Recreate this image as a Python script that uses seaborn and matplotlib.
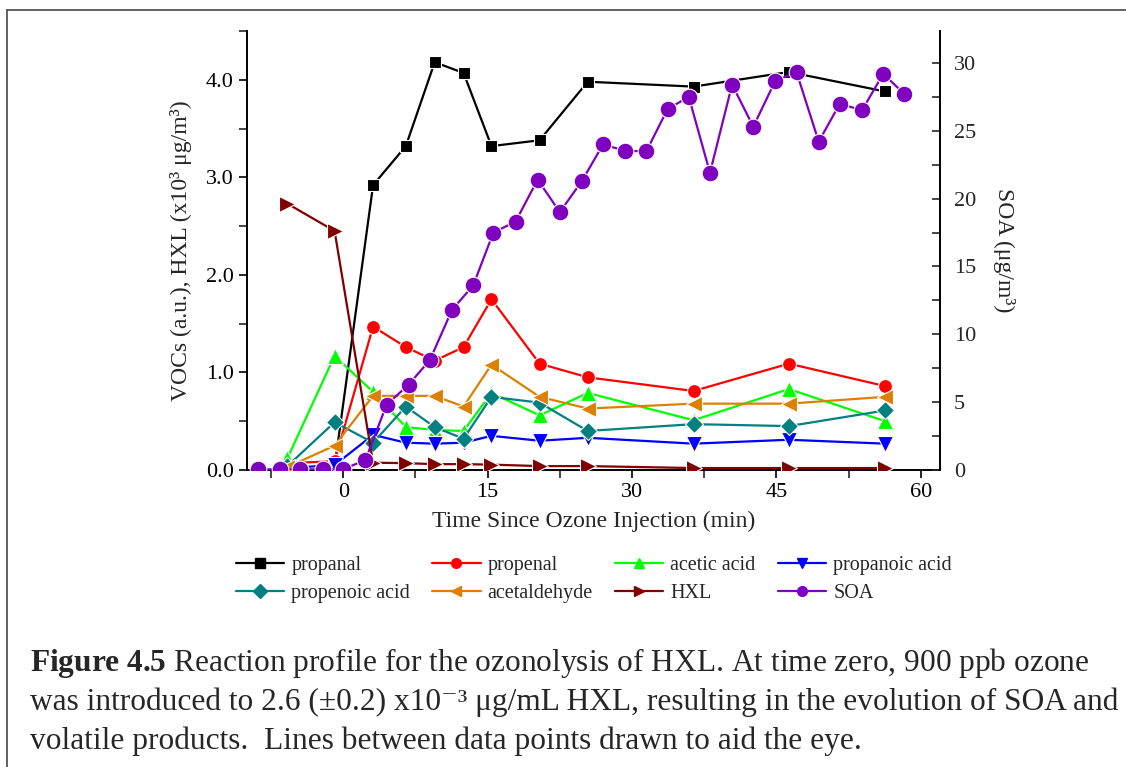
import numpy as np
import pandas as pd
import matplotlib
matplotlib.use("Agg")
import matplotlib.pyplot as plt
from matplotlib.lines import Line2D
from matplotlib.ticker import MultipleLocator, FormatStrFormatter
import seaborn as sns

# ---------------- data ----------------
voc_time = [-5.8, -0.9, 3.1, 6.5, 9.5, 12.5, 15.4, 20.4, 25.4, 36.4, 46.3, 56.3]
propanal_time = [-0.9, 3.1, 6.5, 9.5, 12.5, 15.4, 20.4, 25.4, 36.4, 46.3, 56.3]
propanal = [0.03, 2.92, 3.32, 4.18, 4.07, 3.32, 3.38, 3.98, 3.93, 4.08, 3.88]
propenal = [0.07, 0.09, 1.47, 1.26, 1.12, 1.26, 1.75, 1.09, 0.95, 0.81, 1.09, 0.86]
acetic_acid = [0.12, 1.17, 0.80, 0.44, 0.41, 0.40, 0.79, 0.56, 0.79, 0.51, 0.83, 0.50]
propanoic_acid = [0.02, 0.05, 0.36, 0.28, 0.27, 0.28, 0.35, 0.30, 0.33, 0.27, 0.31, 0.27]
propenoic_acid = [0.04, 0.49, 0.28, 0.65, 0.44, 0.32, 0.75, 0.69, 0.40, 0.47, 0.45, 0.61]
acetaldehyde = [0.03, 0.25, 0.76, 0.76, 0.76, 0.65, 1.08, 0.75, 0.63, 0.68, 0.68, 0.75]
hxl = [2.73, 2.45, 0.075, 0.07, 0.06, 0.06, 0.055, 0.04, 0.04, 0.02, 0.02, 0.02]

soa_time = [-8.9, -6.6, -4.5, -2.1, 0.0, 2.3, 4.5, 6.8, 9.0, 11.3, 13.5, 15.6, 17.9,
            20.2, 22.5, 24.8, 27.0, 29.3, 31.5, 33.7, 35.9, 38.1, 40.4, 42.6, 44.9,
            47.1, 49.4, 51.6, 53.9, 56.1, 58.3]
soa = [0.05, 0.05, 0.05, 0.05, 0.05, 0.74, 4.8, 6.3, 8.1, 11.8, 13.6, 17.5, 18.3,
       21.4, 19.0, 21.3, 24.0, 23.5, 23.5, 26.6, 27.5, 21.9, 28.4, 25.3, 28.7,
       29.3, 24.2, 27.0, 26.5, 29.2, 27.7]

labels = ["propanal", "propenal", "acetic acid", "propanoic acid",
          "propenoic acid", "acetaldehyde", "HXL", "SOA"]
x_ticks = [0, 15, 30, 45, 60]
left_ticks = [0.0, 1.0, 2.0, 3.0, 4.0]
right_ticks = [0, 5, 10, 15, 20, 25, 30]

# ---------------- style ----------------
sns.set_style("ticks")
plt.rcParams["font.family"] = ["Liberation Serif", "DejaVu Serif"]
plt.rcParams["mathtext.fontset"] = "custom"
plt.rcParams["mathtext.rm"] = "Liberation Serif"
plt.rcParams["mathtext.it"] = "Liberation Serif:italic"
plt.rcParams["mathtext.bf"] = "Liberation Serif:bold"

fig = plt.figure(figsize=(11.26, 7.67), dpi=100)
ax = fig.add_axes([247/1126, 1-470/767, (940-247)/1126, (470-31)/767])
ax2 = ax.twinx()

styles = {
    "propanal": ("black", "s", 8.5),
    "propenal": ("#FF0000", "o", 10),
    "acetic acid": ("#00FF00", "^", 11),
    "propanoic acid": ("#0000FF", "v", 11),
    "propenoic acid": ("#008080", "D", 9),
    "acetaldehyde": ("#DD8000", "<", 11),
    "HXL": ("#800000", ">", 11),
    "SOA": ("#8000C0", "o", 12),
}

series = [
    ("propanal", propanal_time, propanal),
    ("propenal", voc_time, propenal),
    ("acetic acid", voc_time, acetic_acid),
    ("propanoic acid", voc_time, propanoic_acid),
    ("propenoic acid", voc_time, propenoic_acid),
    ("acetaldehyde", voc_time, acetaldehyde),
    ("HXL", voc_time, hxl),
]

for name, t, v in series:
    c, m, ms = styles[name]
    df = pd.DataFrame({"t": t, "v": v})
    sns.lineplot(data=df, x="t", y="v", ax=ax, color=c, marker=m, markersize=ms,
                 linewidth=1.6, markeredgecolor="white", markeredgewidth=0.8,
                 legend=False, zorder=3)

c, m, ms = styles["SOA"]
dfs = pd.DataFrame({"t": soa_time, "s": soa})
sns.lineplot(data=dfs, x="t", y="s", ax=ax2, color=c, marker=m, markersize=ms,
             linewidth=1.6, markeredgecolor="white", markeredgewidth=0.8,
             legend=False, zorder=3)

# ---------------- axes ----------------
ax.set_xlim(-10, 62)
ax.set_ylim(0, 4.5)
ax2.set_ylim(0, 32.35)
ax.set_xticks(x_ticks)
ax.xaxis.set_minor_locator(MultipleLocator(7.5))
ax.set_yticks(left_ticks)
ax.yaxis.set_major_formatter(FormatStrFormatter("%.1f"))
ax.yaxis.set_minor_locator(MultipleLocator(0.5))
ax2.set_yticks(right_ticks)
ax2.yaxis.set_minor_locator(MultipleLocator(2.5))

for a in (ax, ax2):
    a.spines["top"].set_visible(False)
    for s in a.spines.values():
        s.set_linewidth(1.4)
        s.set_color("black")
ax.spines["right"].set_visible(False)
ax2.spines["left"].set_visible(False)
ax2.spines["bottom"].set_visible(False)

ax.tick_params(axis="both", which="major", direction="out", length=6, width=1.2,
               labelsize=16, colors="black")
ax.tick_params(axis="both", which="minor", direction="out", length=6, width=1.2)
ax2.tick_params(axis="y", which="major", direction="in", length=6, width=1.2,
                labelsize=16, pad=10)
ax2.tick_params(axis="y", which="minor", direction="in", length=6, width=1.2)

ax.set_xlabel("Time Since Ozone Injection (min)", fontsize=17, labelpad=6)
ax.set_ylabel("VOCs (a.u.), HXL (x10³ μg/m³)", fontsize=17, labelpad=10)
ax2.set_ylabel("SOA (μg/m³)", fontsize=17, rotation=270, labelpad=28)

# ---------------- legend (row-major order like the reference) ----------------
ncol = 4
order = [r * ncol + cidx for cidx in range(ncol) for r in range(2)]
handles = []
for name in labels:
    c, m, ms = styles[name]
    handles.append(Line2D([], [], color=c, marker=m, markersize=7, linewidth=1.6,
                          markeredgecolor=c))
fig.legend([handles[i] for i in order], [labels[i] for i in order],
           ncol=ncol, loc="upper left",
           bbox_to_anchor=(236/1126, 1-556/767), frameon=False, fontsize=14.5,
           handlelength=2.4, handletextpad=0.35, columnspacing=1.1,
           labelspacing=0.42, borderaxespad=0, borderpad=0)

# ---------------- caption & frame ----------------
cap_x = 30/1126
fs_cap = 22.6
fig.text(cap_x, 1-663/767,
         r"$\mathbf{Figure\ 4.5}$ Reaction profile for the ozonolysis of HXL. At time zero, 900 ppb ozone",
         fontsize=fs_cap, va="center", ha="left")
fig.text(cap_x, 1-702/767,
         "was introduced to 2.6 (±0.2) x10⁻³ μg/mL HXL, resulting in the evolution of SOA and",
         fontsize=fs_cap, va="center", ha="left")
fig.text(cap_x, 1-741/767,
         "volatile products.  Lines between data points drawn to aid the eye.",
         fontsize=fs_cap, va="center", ha="left")

fig.add_artist(Line2D([7/1126, 7/1126], [0, 1-10/767], transform=fig.transFigure,
                      color="#555555", linewidth=1.3))
fig.add_artist(Line2D([7/1126, 1], [1-10/767, 1-10/767], transform=fig.transFigure,
                      color="#555555", linewidth=1.3))

fig.savefig("out.png", dpi=100)
